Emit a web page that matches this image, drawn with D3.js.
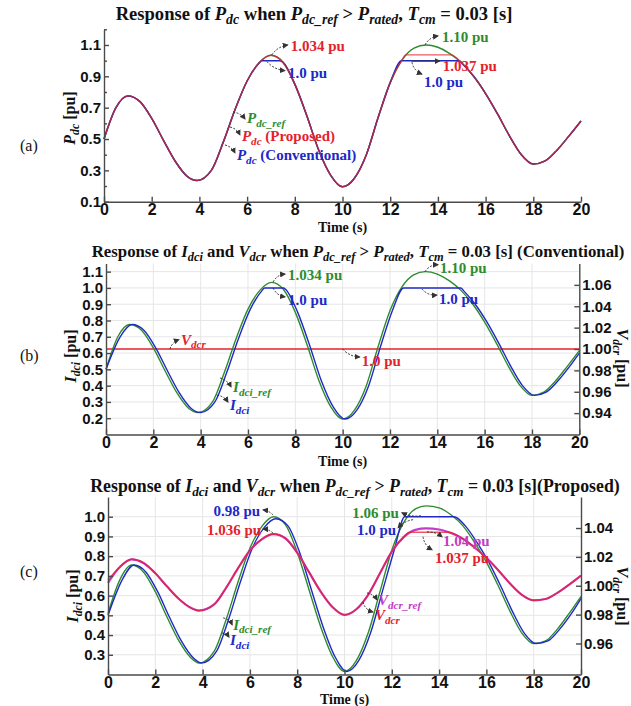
<!DOCTYPE html>
<html>
<head>
<meta charset="utf-8">
<script src="https://cdn.jsdelivr.net/npm/d3@7/dist/d3.min.js"></script>
<style>
  body { margin: 0; background: #fff; }
  svg { display: block; font-family: "Liberation Serif", "Times New Roman", serif; font-weight: bold; }
</style>
</head>
<body>
<svg id="chart" width="631" height="706"></svg>
<script>
// ---- values: [time (s), value] ----
var pdcRef = [[0,0.50],[0.5,0.70],[1,0.775],[1.5,0.74],[2,0.632],[2.5,0.49],[3,0.355],[3.5,0.26],[3.9,0.235],
  [4.5,0.30],[5,0.48],[5.5,0.69],[6,0.87],[6.5,0.985],[7,1.034],[7.5,0.99],[8,0.85],[8.5,0.65],[9,0.43],
  [9.5,0.27],[10,0.195],[10.5,0.25],[11,0.40],[11.5,0.64],[12,0.86],[12.5,1.005],[13,1.08],[13.5,1.10],
  [14,1.085],[14.5,1.045],[15,0.985],[15.5,0.90],[16,0.79],[16.5,0.66],[17,0.52],[17.5,0.40],[18,0.34],
  [18.5,0.36],[19,0.43],[19.5,0.52],[20,0.615]];
var pdcProposed = [[0,0.50],[0.5,0.70],[1,0.775],[1.5,0.74],[2,0.632],[2.5,0.49],[3,0.355],[3.5,0.26],[3.9,0.235],
  [4.5,0.30],[5,0.48],[5.5,0.69],[6,0.87],[6.5,0.985],[7,1.034],[7.5,0.99],[8,0.85],[8.5,0.65],[9,0.43],
  [9.5,0.27],[10,0.195],[10.5,0.25],[11,0.40],[11.5,0.64],[12,0.86],[12.5,1.005],[12.65,1.037],[14.55,1.037],
  [15,0.985],[15.5,0.90],[16,0.79],[16.5,0.66],[17,0.52],[17.5,0.40],[18,0.34],
  [18.5,0.36],[19,0.43],[19.5,0.52],[20,0.615]];
var pdcConventional = [[0,0.50],[0.5,0.70],[1,0.775],[1.5,0.74],[2,0.632],[2.5,0.49],[3,0.355],[3.5,0.26],[3.9,0.235],
  [4.5,0.30],[5,0.48],[5.5,0.69],[6,0.87],[6.5,0.985],[6.6,1.0],[7.35,1.0],[7.5,0.99],[8,0.85],[8.5,0.65],[9,0.43],
  [9.5,0.27],[10,0.195],[10.5,0.25],[11,0.40],[11.5,0.64],[12,0.86],[12.48,1.0],[14.9,1.0],
  [15,0.985],[15.5,0.90],[16,0.79],[16.5,0.66],[17,0.52],[17.5,0.40],[18,0.34],
  [18.5,0.36],[19,0.43],[19.5,0.52],[20,0.615]];

// (b) conventional
var idciRefB = pdcRef;
var idciB = [[0,0.50],[0.6,0.70],[1.1,0.775],[1.6,0.74],[2.1,0.632],[2.6,0.49],[3.1,0.355],[3.6,0.26],[4.0,0.235],
  [4.6,0.30],[5.1,0.48],[5.6,0.69],[6.1,0.87],[6.6,0.985],[6.7,1.0],[7.5,1.0],[7.6,0.99],[8.1,0.85],[8.6,0.65],
  [9.1,0.43],[9.6,0.27],[10.1,0.195],[10.6,0.25],[11.1,0.40],[11.6,0.64],[12.1,0.86],[12.58,1.0],[15.0,1.0],
  [15.1,0.985],[15.6,0.90],[16.1,0.79],[16.6,0.66],[17.1,0.52],[17.6,0.40],[18.1,0.34],[18.6,0.36],[19.1,0.43],
  [19.6,0.52],[20,0.60]];
var vdcrB = [[0,1.0],[20,1.0]];

// (c) proposed
var idciRefC = [[0,0.51],[0.5,0.68],[1,0.755],[1.5,0.72],[2,0.62],[2.5,0.49],[3,0.37],[3.5,0.285],[3.85,0.258],
  [4.5,0.32],[5,0.48],[5.5,0.67],[6,0.84],[6.5,0.95],[7,1.0],[7.5,0.96],[8,0.82],[8.5,0.63],[9,0.44],[9.5,0.29],
  [10,0.215],[10.5,0.27],[11,0.41],[11.5,0.62],[12,0.83],[12.5,0.97],[13,1.04],[13.45,1.055],[14,1.045],
  [14.5,1.01],[15,0.955],[15.5,0.87],[16,0.77],[16.5,0.65],[17,0.52],[17.5,0.41],[18,0.357],[18.5,0.37],
  [19,0.43],[19.5,0.51],[20,0.596]];
var idciC = [[0,0.50],[0.6,0.68],[1.1,0.755],[1.6,0.72],[2.1,0.62],[2.6,0.49],[3.1,0.37],[3.6,0.285],[3.95,0.258],
  [4.6,0.32],[5.1,0.48],[5.6,0.67],[6.1,0.84],[6.6,0.945],[7.1,0.99],[7.6,0.955],[8.1,0.82],[8.6,0.63],[9.1,0.44],
  [9.6,0.29],[10.1,0.215],[10.6,0.27],[11.1,0.41],[11.6,0.62],[12.1,0.83],[12.55,1.0],[14.63,1.0],[15.1,0.955],
  [15.6,0.87],[16.1,0.77],[16.6,0.65],[17.1,0.52],[17.6,0.41],[18.1,0.357],[18.6,0.37],[19.1,0.43],[19.6,0.51],
  [20,0.585]];
var vdcrRefC = [[0,1.002],[0.5,1.013],[1,1.0183],[1.5,1.0158],[2,1.0087],[2.5,0.9994],[3,0.9908],[3.5,0.9847],
  [3.85,0.9828],[4.5,0.9872],[5,0.9987],[5.5,1.0122],[6,1.0244],[6.5,1.0322],[7,1.0358],[7.5,1.0329],[8,1.0229],
  [8.5,1.0094],[9,0.9958],[9.5,0.9851],[10,0.9798],[10.5,0.9837],[11,0.9937],[11.5,1.0087],[12,1.0237],
  [12.5,1.0337],[13,1.0387],[13.45,1.0397],[14,1.039],[14.5,1.0365],[15,1.0326],[15.5,1.0265],[16,1.0194],
  [16.5,1.0108],[17,1.0015],[17.5,0.9937],[18,0.9899],[18.5,0.9908],[19,0.9951],[19.5,1.0008],[20,1.007]];
var vdcrC = [[0,1.004],[0.5,1.013],[1,1.0183],[1.5,1.0158],[2,1.0087],[2.5,0.9994],[3,0.9908],[3.5,0.9847],
  [3.85,0.9828],[4.5,0.9872],[5,0.9987],[5.5,1.0122],[6,1.0244],[6.5,1.0322],[7,1.0358],[7.5,1.0329],[8,1.0229],
  [8.5,1.0094],[9,0.9958],[9.5,0.9851],[10,0.9798],[10.5,0.9837],[11,0.9937],[11.5,1.0087],[12,1.0237],
  [12.5,1.0337],[12.75,1.037],[14.4,1.037],[15,1.0326],[15.5,1.0265],[16,1.0194],
  [16.5,1.0108],[17,1.0015],[17.5,0.9937],[18,0.9899],[18.5,0.9908],[19,0.9951],[19.5,1.0008],[20,1.007]];

// tick values
var timeTicks = [0,2,4,6,8,10,12,14,16,18,20];
var ticksA = [0.1,0.3,0.5,0.7,0.9,1.1];
var minorA = [0.2,0.4,0.6,0.8,1.0,1.2];
var ticksB = [0.2,0.3,0.4,0.5,0.6,0.7,0.8,0.9,1.0,1.1];
var ticksB2 = [0.94,0.96,0.98,1.00,1.02,1.04,1.06];
var ticksC = [0.3,0.4,0.5,0.6,0.7,0.8,0.9,1.0];
var ticksC2 = [0.96,0.98,1.00,1.02,1.04];

var GREEN = '#2e8c2e', RED = '#e4222b', BLUE = '#2128c8', MAGENTA = '#c53ac8', AXIS = '#4a4a4a';

var svg = d3.select('#chart');

svg.append('defs').append('marker')
  .attr('id', 'arr').attr('viewBox', '0 0 6 6')
  .attr('refX', 5).attr('refY', 3)
  .attr('markerWidth', 6).attr('markerHeight', 6)
  .attr('markerUnits', 'userSpaceOnUse')
  .attr('orient', 'auto')
  .append('path').attr('d', 'M0,0 L6,3 L0,6 z').attr('fill', '#333');

// text with italic / subscript pieces: [str, ''|'i'|'s']
function rich(sel, parts, size) {
  var shift = 0;
  parts.forEach(function(p) {
    var s = p[1] || '';
    var target = s === 's' ? size * 0.24 : 0;
    sel.append('tspan').text(p[0])
      .attr('font-size', s === 's' ? size * 0.74 : size)
      .attr('font-style', s ? 'italic' : 'normal')
      .attr('dy', target - shift);
    shift = target;
  });
}

function fitRich(sel, parts, size, width) {
  rich(sel, parts, size);
  if (!width) return;
  var w = sel.node().getBBox().width;
  sel.selectAll('tspan').remove();
  rich(sel, parts, size * width / w);
}

function drawPanel(p) {
  var x = d3.scaleLinear().domain([0, 20]).range([p.x0, p.x1]);
  var y = d3.scaleLinear().domain(p.yDom).range([p.yBot, p.yTop]);
  var y2 = p.y2Dom ? d3.scaleLinear().domain(p.y2Dom).range([p.yBot, p.yTop]) : null;
  var g = svg.append('g');

  if (p.grid) {
    g.append('g').selectAll('line.v').data(timeTicks.slice(1, -1)).enter().append('line')
      .attr('x1', function(d) { return x(d); }).attr('x2', function(d) { return x(d); })
      .attr('y1', p.yTop).attr('y2', p.yBot)
      .attr('stroke', '#e6e6e6').attr('stroke-width', 1);
    g.append('g').selectAll('line.h').data(p.yTicks).enter().append('line')
      .attr('x1', p.x0).attr('x2', p.x1)
      .attr('y1', function(d) { return y(d); }).attr('y2', function(d) { return y(d); })
      .attr('stroke', '#e6e6e6').attr('stroke-width', 1);
  }

  // series
  p.series.forEach(function(s) {
    var ys = s.right ? y2 : y;
    var line = d3.line()
      .x(function(d) { return x(d[0]); })
      .y(function(d) { return ys(d[1]); })
      .curve(d3.curveMonotoneX);
    g.append('path').datum(s.data)
      .attr('d', line)
      .attr('fill', 'none')
      .attr('stroke', s.color)
      .attr('stroke-width', s.w || 1.4)
      .attr('opacity', s.op || 1);
  });

  // axes
  var xa = g.append('g').attr('transform', 'translate(0,' + p.yBot + ')')
    .call(d3.axisBottom(x).tickValues(timeTicks).tickFormat(d3.format('d'))
      .tickSizeInner(-5).tickSizeOuter(0).tickPadding(2));
  xa.selectAll('text').attr('font-size', 16).attr('font-family', null).attr('fill', '#111');

  var ya = g.append('g').attr('transform', 'translate(' + p.x0 + ',0)')
    .call(d3.axisLeft(y).tickValues(p.yTicks).tickFormat(d3.format('.1f'))
      .tickSizeInner(-5).tickSizeOuter(0).tickPadding(3));
  ya.selectAll('text').attr('font-size', 15).attr('font-family', null).attr('fill', '#111');

  if (p.minor) {
    g.append('g').attr('transform', 'translate(' + p.x0 + ',0)')
      .call(d3.axisLeft(y).tickValues(p.minor).tickFormat('').tickSizeInner(-3).tickSizeOuter(0))
      .select('.domain').remove();
  }
  if (y2) {
    var ra = g.append('g').attr('transform', 'translate(' + p.x1 + ',0)')
      .call(d3.axisRight(y2).tickValues(p.y2Ticks).tickFormat(d3.format('.2f'))
        .tickSizeInner(-5).tickSizeOuter(0).tickPadding(3));
    ra.selectAll('text').attr('font-size', 15).attr('font-family', null).attr('fill', '#111');
  }
  g.selectAll('.domain, .tick line').attr('stroke', AXIS).attr('stroke-width', 1.4);

  // title
  var t = g.append('text').attr('x', p.titleX).attr('y', p.titleY)
    .attr('text-anchor', 'middle').attr('fill', '#111');
  fitRich(t, p.title, 15, p.titleW);

  // axis labels
  g.append('text').attr('x', (p.x0 + p.x1) / 2).attr('y', p.timeY)
    .attr('text-anchor', 'middle').attr('font-size', 14).attr('fill', '#111').text('Time (s)');
  var yl = g.append('text')
    .attr('transform', 'translate(' + p.yLabel[0] + ',' + p.yLabel[1] + ') rotate(-90)')
    .attr('text-anchor', 'middle').attr('fill', '#111');
  rich(yl, p.yLabelText, 16);
  if (p.y2Label) {
    var yl2 = g.append('text')
      .attr('transform', 'translate(' + p.y2Label[0] + ',' + p.y2Label[1] + ') rotate(90)')
      .attr('text-anchor', 'middle').attr('fill', '#111');
    rich(yl2, p.y2LabelText, 16);
  }
  g.append('text').attr('x', 20).attr('y', p.tagY)
    .attr('font-size', 16).attr('font-weight', 'normal').attr('fill', '#111').text(p.tag);

  // annotations: arrow from a point on a curve, label at its end
  p.notes.forEach(function(n) {
    var ys = n.right ? y2 : y;
    var x0 = x(n.at[0]), y0 = ys(n.at[1]);
    var x1 = x0 + n.d[0], y1 = y0 + n.d[1];
    var mx = (x0 + x1) / 2, my = (y0 + y1) / 2;
    var len = Math.sqrt(n.d[0] * n.d[0] + n.d[1] * n.d[1]) || 1;
    var b = n.bend === undefined ? 4 : n.bend;
    var cx = mx - n.d[1] / len * b, cy = my + n.d[0] / len * b;
    g.append('path')
      .attr('d', 'M' + x0 + ',' + y0 + ' Q' + cx + ',' + cy + ' ' + x1 + ',' + y1)
      .attr('fill', 'none')
      .attr('stroke', '#333')
      .attr('stroke-width', 1)
      .attr('stroke-dasharray', n.solid ? null : '2,1.5')
      .attr('marker-end', 'url(#arr)');
    var tx = g.append('text').attr('x', x1 + n.t[0]).attr('y', y1 + n.t[1])
      .attr('text-anchor', n.t[0] < 0 ? 'end' : 'start')
      .attr('fill', n.color);
    rich(tx, n.text, 15);
  });
}

function pu(v) { return [[v + ' pu', '']]; }

var titleEnd = [[' when ', ''], ['P', 'i'], ['dc_ref', 's'], [' > ', ''], ['P', 'i'], ['rated', 's'],
  [', ', ''], ['T', 'i'], ['cm', 's']];

drawPanel({
  tag: '(a)', tagY: 151,
  x0: 104, x1: 581, yTop: 29.3, yBot: 201.7, yDom: [0.1, 1.2], yTicks: ticksA, minor: minorA,
  title: [['Response of ', ''], ['P', 'i'], ['dc', 's']].concat(titleEnd, [[' = 0.03 [s]', '']]),
  titleX: 314, titleY: 20, titleW: 397,
  timeY: 232,
  yLabel: [75, 118], yLabelText: [['P', 'i'], ['dc', 's'], [' [pu]', '']],
  series: [
    {data: pdcRef, color: GREEN, w: 1.5},
    {data: pdcConventional, color: BLUE, w: 1.5},
    {data: pdcProposed, color: RED, w: 1.4, op: 0.75}
  ],
  notes: [
    {at: [7.03, 1.036], d: [16, -10], bend: -4, t: [3, 6], color: RED, text: pu('1.034')},
    {at: [6.83, 0.994], d: [18, 9], bend: 4, t: [3, 7], color: BLUE, text: pu('1.0')},
    {at: [5.41, 0.672], d: [12, 7], bend: -3, t: [2, 4], color: GREEN, text: [['P', 'i'], ['dc_ref', 's']]},
    {at: [5.28, 0.577], d: [10, 8], bend: -3, t: [2, 6], color: RED,
      text: [['P', 'i'], ['dc', 's'], [' (Proposed)', '']]},
    {at: [5.07, 0.462], d: [10, 8], bend: -3, t: [2, 7], color: BLUE,
      text: [['P', 'i'], ['dc', 's'], [' (Conventional)', '']]},
    {at: [13.46, 1.10], d: [13, -9], bend: -4, t: [4, 6], color: GREEN, text: pu('1.10')},
    {at: [12.9, 0.997], d: [28, 0], bend: 0, solid: true, t: [3, 10], color: RED, text: pu('1.037')},
    {at: [12.91, 0.99], d: [10, 12], bend: 4, t: [2, 13], color: BLUE, text: pu('1.0')}
  ]
});

drawPanel({
  tag: '(b)', tagY: 361, grid: true,
  x0: 106, x1: 579.3, yTop: 263.5, yBot: 434.5, yDom: [0.1, 1.15], yTicks: ticksB,
  y2Dom: [0.92, 1.08], y2Ticks: ticksB2,
  title: [['Response of ', ''], ['I', 'i'], ['dci', 's'], [' and ', ''], ['V', 'i'], ['dcr', 's']]
    .concat(titleEnd, [[' = 0.03 [s] (Conventional)', '']]),
  titleX: 358, titleY: 257, titleW: 533,
  timeY: 466,
  yLabel: [76, 356], yLabelText: [['I', 'i'], ['dci', 's'], [' [pu]', '']],
  y2Label: [617, 358], y2LabelText: [['V', 'i'], ['dcr', 's'], [' [pu]', '']],
  series: [
    {data: vdcrB, color: RED, w: 1.3, right: true},
    {data: idciRefB, color: GREEN, w: 1.4},
    {data: idciB, color: BLUE, w: 1.4}
  ],
  notes: [
    {at: [7.06, 1.036], d: [12, -8], bend: -4, t: [3, 6], color: GREEN, text: pu('1.034')},
    {at: [7.06, 1.0], d: [12, 9], bend: 4, t: [3, 8], color: BLUE, text: pu('1.0')},
    {at: [2.70, 1.0], right: true, d: [9, -9.5], bend: -3, t: [2, 5], color: RED, text: [['V', 'i'], ['dcr', 's']]},
    {at: [4.82, 0.447], d: [11, 9], bend: -3, t: [2, 5], color: GREEN, text: [['I', 'i'], ['dci_ref', 's']]},
    {at: [4.69, 0.342], d: [11, 7], bend: -3, t: [2, 8], color: BLUE, text: [['I', 'i'], ['dci', 's']]},
    {at: [13.48, 1.10], d: [13, -7], bend: -4, t: [2, 8], color: GREEN, text: pu('1.10')},
    {at: [13.35, 0.993], d: [15, 6], bend: 4, t: [2, 9], color: BLUE, text: pu('1.0')},
    {at: [10.0, 1.0], right: true, d: [17, 8], bend: 4, t: [2, 9], color: RED, text: pu('1.0')}
  ]
});

drawPanel({
  tag: '(c)', tagY: 577, grid: true,
  x0: 108, x1: 581, yTop: 497, yBot: 674.5, yDom: [0.2, 1.1], yTicks: ticksC,
  y2Dom: [0.9385, 1.0615], y2Ticks: ticksC2,
  title: [['Response of ', ''], ['I', 'i'], ['dci', 's'], [' and ', ''], ['V', 'i'], ['dcr', 's']]
    .concat(titleEnd, [[' = 0.03 [s](Proposed)', '']]),
  titleX: 355, titleY: 492, titleW: 530,
  timeY: 703.5,
  yLabel: [78, 596], yLabelText: [['I', 'i'], ['dci', 's'], [' [pu]', '']],
  y2Label: [617, 596], y2LabelText: [['V', 'i'], ['dcr', 's'], [' [pu]', '']],
  series: [
    {data: idciRefC, color: GREEN, w: 1.4},
    {data: idciC, color: BLUE, w: 1.4},
    {data: vdcrRefC, color: MAGENTA, w: 2.2, right: true},
    {data: vdcrC, color: RED, w: 1.5, op: 0.75, right: true}
  ],
  notes: [
    {at: [6.98, 1.009], d: [-10, -5], bend: 2, t: [-3, 6], color: BLUE, text: pu('0.98')},
    {at: [6.98, 1.0365], right: true, d: [-10, -4], bend: 2, t: [-2, 6], color: RED, text: pu('1.036')},
    {at: [4.87, 0.487], d: [9, 7], bend: -3, t: [1, 5], color: GREEN, text: [['I', 'i'], ['dci_ref', 's']]},
    {at: [4.82, 0.41], d: [7, 4], bend: -2, t: [1, 8], color: BLUE, text: [['I', 'i'], ['dci', 's']]},
    {at: [13.23, 1.005], d: [-19, -3], bend: -3, t: [-3, 5], color: GREEN, text: pu('1.06')},
    {at: [12.9, 0.985], d: [-15, 8], bend: 3, t: [-2, 7], color: BLUE, text: pu('1.0')},
    {at: [13.49, 1.0373], right: true, d: [15, 5], bend: -3, t: [1, 9], color: MAGENTA, text: pu('1.04')},
    {at: [13.32, 1.034], right: true, d: [9, 13], bend: 4, t: [3, 13], color: RED, text: pu('1.037')},
    {at: [10.95, 0.995], right: true, d: [10, 7], bend: -3, t: [1, 5], color: MAGENTA, text: [['V', 'i'], ['dcr_ref', 's']]},
    {at: [10.78, 0.9887], right: true, d: [10, 10], bend: 4, t: [2, 8], color: RED, text: [['V', 'i'], ['dcr', 's']]}
  ]
});
</script>
</body>
</html>
